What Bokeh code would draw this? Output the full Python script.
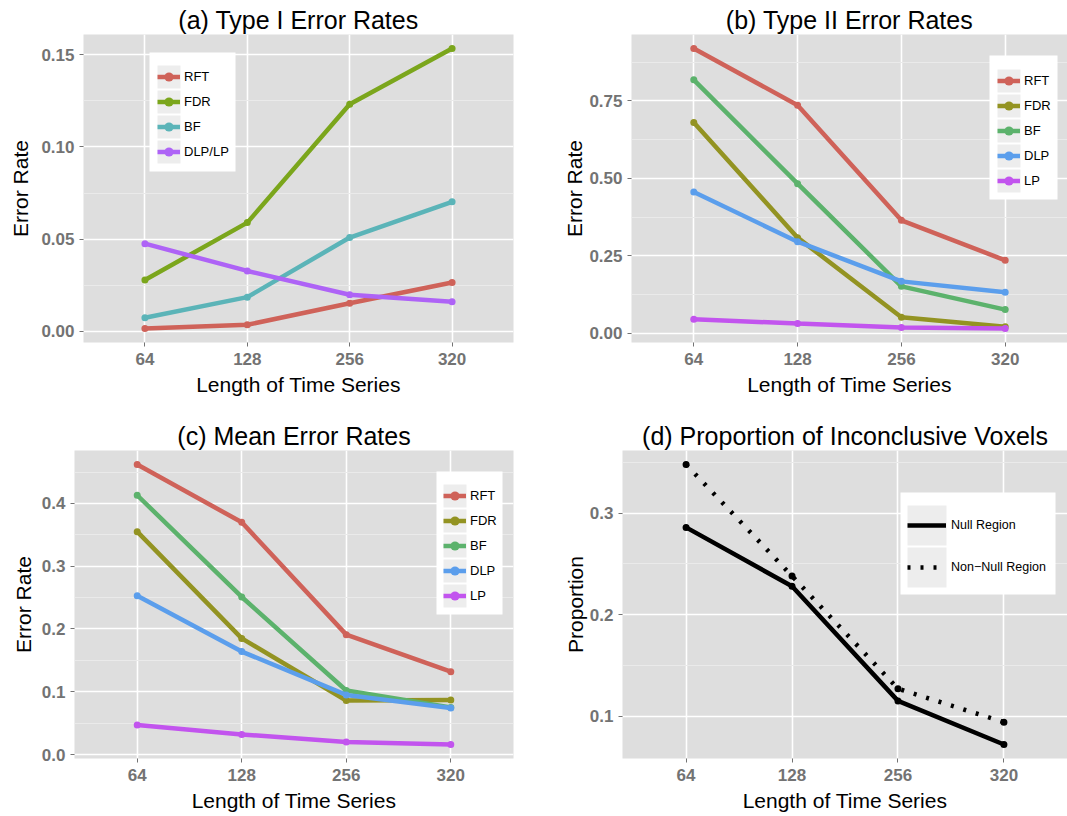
from bokeh.plotting import figure
from bokeh.layouts import column, row
from bokeh.models import (FactorRange, Range1d, FixedTicker, Legend, LegendItem,
                          PrintfTickFormatter, BoxAnnotation)
from bokeh.embed import file_html
from bokeh.resources import INLINE

# ---------------- data ----------------
lengths = ["64", "128", "256", "320"]

# (a) Type I error rates
t1_rft = [0.0016, 0.0036, 0.0153, 0.0265]
t1_fdr = [0.0279, 0.0590, 0.1232, 0.1534]
t1_bf = [0.0074, 0.0186, 0.0509, 0.0703]
t1_dlplp = [0.0476, 0.0328, 0.0199, 0.0161]

# (b) Type II error rates
t2_rft = [0.919, 0.736, 0.365, 0.236]
t2_fdr = [0.680, 0.309, 0.052, 0.022]
t2_bf = [0.818, 0.483, 0.152, 0.077]
t2_dlp = [0.456, 0.296, 0.168, 0.133]
t2_lp = [0.046, 0.032, 0.019, 0.016]

# (c) Mean error rates
mean_rft = [0.462, 0.370, 0.191, 0.132]
mean_fdr = [0.355, 0.185, 0.086, 0.087]
mean_bf = [0.413, 0.251, 0.102, 0.075]
mean_dlp = [0.253, 0.164, 0.095, 0.074]
mean_lp = [0.047, 0.032, 0.020, 0.016]

# (d) Proportion of inconclusive voxels
prop_null = [0.286, 0.228, 0.115, 0.072]
prop_nonnull = [0.348, 0.238, 0.127, 0.094]

titles = ["(a) Type I Error Rates", "(b) Type II Error Rates",
          "(c) Mean Error Rates", "(d) Proportion of Inconclusive Voxels"]
x_title = "Length of Time Series"

# ---------------- styling ----------------
FONT = "Liberation Sans"
BG = "#DEDEDE"
MINOR = "#EAEAEA"
KEY_BG = "#EDEDED"
TICK_GREY = "#737373"

COL_A = {"RFT": "#CF6259", "FDR": "#7BA61C", "BF": "#5BB4B8", "DLP/LP": "#AE63F6"}
COL5 = {"RFT": "#CF6259", "FDR": "#939322", "BF": "#5CB26C", "DLP": "#5B9EEC", "LP": "#C254EE"}


def yrange(series):
    lo = min(min(s) for s in series)
    hi = max(max(s) for s in series)
    pad = (hi - lo) * 0.05
    return Range1d(lo - pad, hi + pad)


def make_fig(fw, fh, mbl, mbr, mbt, mbb, yr, title, ylabel,
             majors, minors, fmt, ylab_standoff):
    p = figure(frame_width=fw, frame_height=fh,
               x_range=FactorRange(*lengths, range_padding=0.1, range_padding_units="absolute"),
               y_range=yr, output_backend="svg", toolbar_location=None,
               min_border_left=mbl, min_border_right=mbr,
               min_border_top=mbt, min_border_bottom=mbb)
    p.background_fill_color = BG
    p.border_fill_color = "white"
    p.outline_line_color = None
    p.title.text = title
    p.title.text_font = FONT
    p.title.text_font_size = "25px"
    p.title.text_font_style = "normal"
    p.title.text_color = "black"
    p.title.align = "center"
    p.title.standoff = 1

    p.yaxis.ticker = FixedTicker(ticks=majors, minor_ticks=minors)
    p.yaxis.formatter = PrintfTickFormatter(format=fmt)
    for ax in (p.xaxis, p.yaxis):
        ax.axis_line_color = None
        ax.major_tick_line_color = TICK_GREY
        ax.major_tick_line_width = 1
        ax.major_tick_out = 4
        ax.major_tick_in = 0
        ax.minor_tick_line_color = None
        ax.major_label_text_font = FONT
        ax.major_label_text_font_size = "17px"
        ax.major_label_text_font_style = "bold"
        ax.major_label_text_color = TICK_GREY
        ax.axis_label_text_font = FONT
        ax.axis_label_text_font_size = "21px"
        ax.axis_label_text_font_style = "normal"
        ax.axis_label_text_color = "black"
    p.xaxis.axis_label = x_title
    p.xaxis.major_label_standoff = 6
    p.xaxis.axis_label_standoff = 5
    p.yaxis.axis_label = ylabel
    p.yaxis.major_label_standoff = 5
    p.yaxis.axis_label_standoff = ylab_standoff

    p.xgrid.grid_line_color = "white"
    p.xgrid.grid_line_width = 1.6
    p.ygrid.grid_line_color = "white"
    p.ygrid.grid_line_width = 1.6
    p.ygrid.minor_grid_line_color = MINOR
    p.ygrid.minor_grid_line_width = 1
    return p


def add_series(p, names, values, colors):
    items = []
    for name, vals in zip(names, values):
        ln = p.line(lengths, vals, line_color=colors[name], line_width=4.5)
        pt = p.scatter(lengths, vals, size=7, fill_color=colors[name], line_color=None)
        items.append(LegendItem(label=name, renderers=[ln, pt]))
    return items


def screen_box(p, left, right, bottom, top, color):
    p.add_layout(BoxAnnotation(left=left, right=right, bottom=bottom, top=top,
                               left_units="screen", right_units="screen",
                               bottom_units="screen", top_units="screen",
                               fill_color=color, fill_alpha=1, line_color=None,
                               level="annotation"))


def add_legend(p, items, box, key_left, key_bottom, gw, gh, sp, standoff, fs):
    # white legend panel and grey key squares (frame-relative screen units)
    screen_box(p, box[0], box[1], box[2], box[3], "white")
    n = len(items)
    for i in range(n):
        b = key_bottom + (n - 1 - i) * (gh + sp)
        screen_box(p, key_left, key_left + gw, b, b + gh, KEY_BG)
    leg = Legend(items=items, location=(key_left, key_bottom))
    leg.background_fill_alpha = 0
    leg.border_line_color = None
    leg.label_text_font = FONT
    leg.label_text_font_size = fs
    leg.label_text_color = "black"
    leg.glyph_width = gw
    leg.glyph_height = gh
    leg.spacing = sp
    leg.padding = 0
    leg.margin = 0
    leg.label_standoff = standoff
    leg.label_height = gh
    p.add_layout(leg)


# ---------- (a) ----------
pa = make_fig(430, 308, 83, 20, 34, 68,
              yrange([t1_rft, t1_fdr, t1_bf, t1_dlplp]), titles[0], "Error Rate",
              [0, 0.05, 0.10, 0.15], [0.025, 0.075, 0.125], "%.2f", 6)
items = add_series(pa, ["RFT", "FDR", "BF", "DLP/LP"], [t1_rft, t1_fdr, t1_bf, t1_dlplp], COL_A)
add_legend(pa, items, (66, 152, 171, 290), 74, 179, 23, 23, 2, 4, "13px")

# ---------- (b) ----------
pb = make_fig(436, 308, 98, 0, 34, 68,
              yrange([t2_rft, t2_fdr, t2_bf, t2_dlp, t2_lp]), titles[1], "Error Rate",
              [0, 0.25, 0.50, 0.75], [0.125, 0.375, 0.625, 0.875], "%.2f", 0)
items = add_series(pb, ["RFT", "FDR", "BF", "DLP", "LP"], [t2_rft, t2_fdr, t2_bf, t2_dlp, t2_lp], COL5)
add_legend(pb, items, (358, 426, 143, 287), 366, 150, 23, 23, 2, 4, "13px")

# ---------- (c) ----------
pc = make_fig(439, 308, 74, 20, 40, 56,
              yrange([mean_rft, mean_fdr, mean_bf, mean_dlp, mean_lp]), titles[2], "Error Rate",
              [0, 0.1, 0.2, 0.3, 0.4], [0.05, 0.15, 0.25, 0.35, 0.45], "%.1f", 4)
items = add_series(pc, ["RFT", "FDR", "BF", "DLP", "LP"],
                   [mean_rft, mean_fdr, mean_bf, mean_dlp, mean_lp], COL5)
add_legend(pc, items, (362, 428, 144, 287), 369, 151, 23, 23, 2, 4, "13px")

# ---------- (d) ----------
pd_ = make_fig(445, 308, 89, 0, 40, 56,
               yrange([prop_null, prop_nonnull]), titles[3], "Proportion",
               [0.1, 0.2, 0.3], [0.05, 0.15, 0.25, 0.35], "%.1f", 0)
ln1 = pd_.line(lengths, prop_null, line_color="black", line_width=4.5)
pd_.scatter(lengths, prop_null, size=7, fill_color="black", line_color=None)
ln2 = pd_.line(lengths, prop_nonnull, line_color="black", line_width=4.5, line_dash="3 10")
pd_.scatter(lengths, prop_nonnull, size=7, fill_color="black", line_color=None)
add_legend(pd_, [LegendItem(label="Null Region", renderers=[ln1]),
                 LegendItem(label="Non\u2212Null Region", renderers=[ln2])],
           (278, 433, 164, 266), 285, 171, 39, 40, 2, 5, "12.5px")

layout = column(row(pa, pb), row(pc, pd_))

open("out.html", "w").write(file_html(layout, INLINE))
